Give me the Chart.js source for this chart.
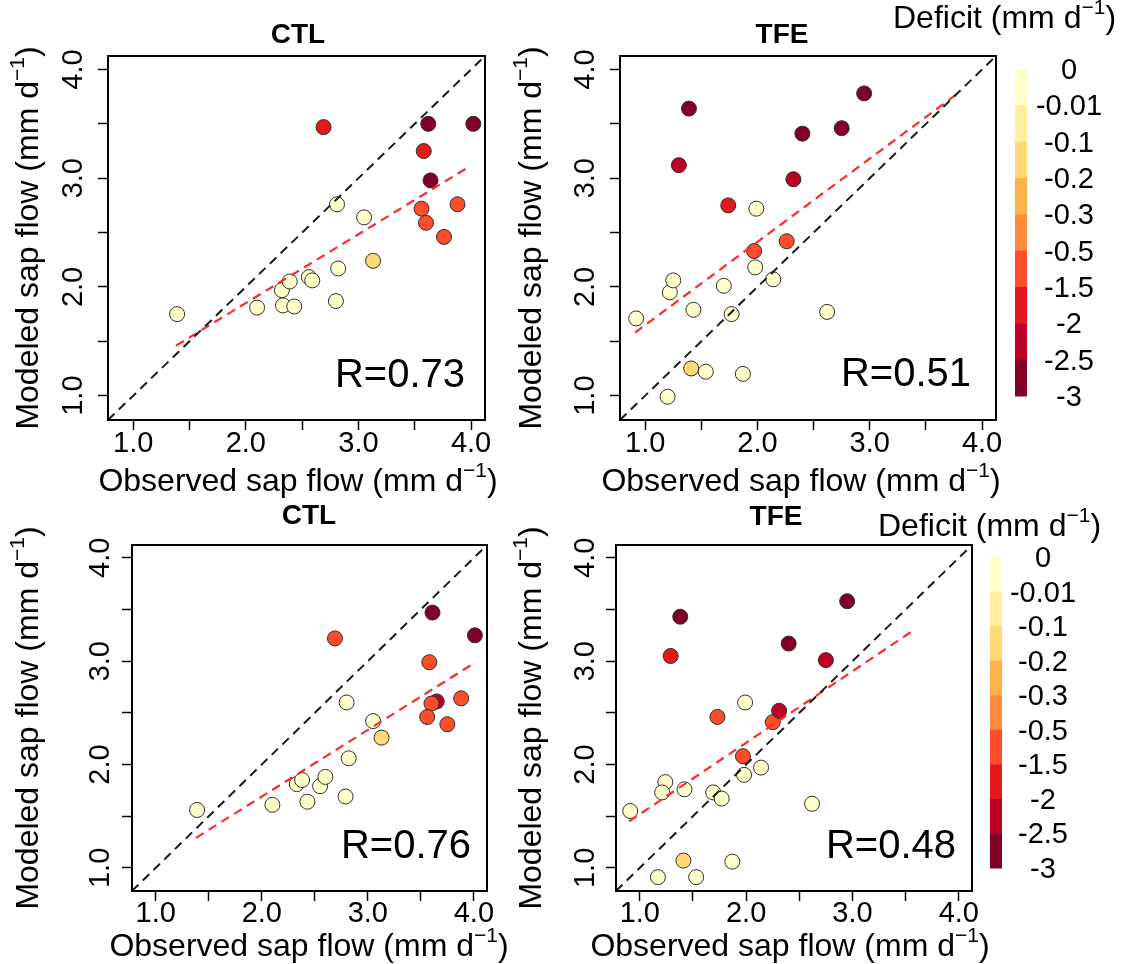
<!DOCTYPE html>
<html>
<head>
<meta charset="utf-8">
<title>Sap flow: modeled vs observed</title>
<script src="https://cdn.jsdelivr.net/npm/chart.js@4.4.1/dist/chart.umd.min.js"></script>
<style>
  body { margin: 0; background: #fff; }
  #wrap { position: relative; width: 1129px; height: 964px; }
  #wrap canvas { position: absolute; left: 0; top: 0; }
</style>
</head>
<body>
<div id="wrap">
  <canvas id="ctlTop" width="1129" height="964"></canvas>
  <canvas id="tfeTop" width="1129" height="964"></canvas>
  <canvas id="ctlBottom" width="1129" height="964"></canvas>
  <canvas id="tfeBottom" width="1129" height="964"></canvas>
</div>
<script>
const FONT = "'Liberation Sans', Arial, Helvetica, sans-serif";
const W = 1129, H = 964;
const X_AXIS_H = 50; // room kept under each box for the x tick labels

// shared axis (mm d-1), same on x and y
const axisMin = 0.776;
const axisMax = 4.124;
const tickValues = [1.0, 1.5, 2.0, 2.5, 3.0, 3.5, 4.0];
const tickLabels = ['1.0', '', '2.0', '', '3.0', '', '4.0'];

// colour bar: class edges and fills
const deficitLabels = ['0', '-0.01', '-0.1', '-0.2', '-0.3', '-0.5', '-1.5', '-2', '-2.5', '-3'];
const deficitColors = ['#ffffcc', '#ffeda0', '#fed976', '#feb24c', '#fd8d3c', '#fc4e2a', '#e31a1c', '#bd0026', '#800026'];

// top row, CTL
const ctlTopObs = [1.39, 2.10, 2.33, 2.43, 2.32, 2.39, 2.56, 2.59, 2.82, 2.80, 3.13, 2.81, 3.05, 2.69, 3.62, 4.02, 3.58, 3.64, 3.56, 3.60, 3.88, 3.76];
const ctlTopMod = [1.75, 1.81, 1.83, 1.82, 1.97, 2.05, 2.09, 2.06, 2.17, 1.87, 2.24, 2.76, 2.64, 3.47, 3.50, 3.50, 3.25, 2.98, 2.72, 2.59, 2.76, 2.46];
const ctlTopBin = [0, 0, 0, 0, 0, 0, 0, 0, 0, 0, 2, 0, 0, 6, 8, 8, 6, 8, 5, 5, 5, 5];
const ctlTopFitX = [1.38, 3.99];
const ctlTopFitY = [1.46, 3.11];

// top row, TFE
const tfeTopObs = [0.92, 1.20, 1.22, 1.25, 1.41, 1.54, 1.43, 1.70, 1.77, 1.87, 1.98, 1.99, 2.14, 2.62, 1.97, 2.26, 1.74, 1.30, 2.32, 1.39, 2.40, 2.75, 2.95];
const tfeTopMod = [1.71, 0.99, 1.95, 2.06, 1.25, 1.22, 1.79, 2.01, 1.75, 1.20, 2.18, 2.72, 2.07, 1.77, 2.33, 2.42, 2.75, 3.12, 2.99, 3.64, 3.41, 3.46, 3.78];
const tfeTopBin = [0, 0, 0, 0, 2, 0, 0, 0, 0, 0, 0, 0, 0, 0, 5, 5, 6, 7, 7, 8, 8, 8, 8];
const tfeTopFitX = [0.91, 3.77];
const tfeTopFitY = [1.58, 3.77];

// bottom row, CTL
const ctlBotObs = [1.39, 2.10, 2.33, 2.38, 2.43, 2.55, 2.60, 2.79, 2.82, 2.80, 3.05, 3.13, 2.69, 3.61, 4.01, 3.58, 3.65, 3.60, 3.56, 3.88, 3.75];
const ctlBotMod = [1.56, 1.61, 1.81, 1.85, 1.64, 1.79, 1.88, 1.69, 2.06, 2.60, 2.42, 2.26, 3.22, 3.47, 3.25, 2.99, 2.61, 2.59, 2.46, 2.64, 2.39];
const ctlBotBin = [0, 0, 0, 0, 0, 0, 0, 0, 0, 0, 0, 2, 5, 8, 8, 5, 7, 5, 5, 5, 5];
const ctlBotFitX = [1.38, 3.97];
const ctlBotFitY = [1.29, 2.96];

// bottom row, TFE
const tfeBotObs = [0.91, 1.17, 1.41, 1.53, 1.87, 1.24, 1.21, 1.42, 1.69, 1.77, 1.98, 2.14, 1.99, 2.62, 1.97, 2.25, 1.73, 2.31, 1.29, 2.75, 1.38, 2.40, 2.95];
const tfeBotMod = [1.55, 0.91, 1.07, 0.91, 1.06, 1.83, 1.73, 1.76, 1.73, 1.67, 1.90, 1.97, 2.60, 1.62, 2.08, 2.41, 2.46, 2.52, 3.05, 3.01, 3.43, 3.17, 3.58];
const tfeBotBin = [0, 0, 2, 0, 0, 0, 0, 0, 0, 0, 0, 0, 0, 0, 5, 5, 5, 7, 6, 7, 8, 8, 8];
const tfeBotFitX = [0.90, 3.59];
const tfeBotFitY = [1.45, 3.31];

const rLabels = ['R=0.73', 'R=0.51', 'R=0.76', 'R=0.48'];

function unitParts(prefix) {
  return [
    { t: prefix + ' (mm d', size: 32 },
    { t: '\u22121', size: 21, dy: -14 },
    { t: ')', size: 32 }
  ];
}

function drawRich(ctx, parts, x, y, align, angle) {
  ctx.save();
  ctx.translate(x, y);
  ctx.rotate(angle);
  let total = 0;
  parts.forEach(pt => {
    ctx.font = pt.size + 'px ' + FONT;
    pt.w = ctx.measureText(pt.t).width;
    total += pt.w;
  });
  let cx = align === 'center' ? -total / 2 : (align === 'right' ? -total : 0);
  ctx.textAlign = 'left';
  ctx.textBaseline = 'alphabetic';
  ctx.fillStyle = '#000';
  parts.forEach(pt => {
    ctx.font = pt.size + 'px ' + FONT;
    ctx.fillText(pt.t, cx, pt.dy || 0);
    cx += pt.w;
  });
  ctx.restore();
}

function drawColorBar(ctx, b) {
  const n = deficitColors.length;
  const h = (b.bottom - b.top) / n;
  deficitColors.forEach((c, i) => {
    ctx.fillStyle = c;
    ctx.fillRect(b.left, b.top + i * h, b.width, h + 0.5);
  });
  ctx.fillStyle = '#000';
  ctx.font = '29px ' + FONT;
  ctx.textAlign = 'center';
  ctx.textBaseline = 'middle';
  deficitLabels.forEach((t, i) => ctx.fillText(t, b.labelX, b.top + i * h + 2));
  drawRich(ctx, unitParts('Deficit'), b.titleX, b.titleY, 'left', 0);
}

function textPlugin(p) {
  return {
    id: 'panelText',
    afterDraw(chart) {
      const ctx = chart.ctx;
      const a = chart.chartArea;
      const ys = chart.scales.y;
      ctx.save();
      ctx.strokeStyle = '#000';
      ctx.lineWidth = 2;
      ctx.strokeRect(a.left, a.top, a.right - a.left, a.bottom - a.top);

      ctx.fillStyle = '#000';
      ctx.font = 'bold 28px ' + FONT;
      ctx.textAlign = 'center';
      ctx.textBaseline = 'alphabetic';
      ctx.fillText(p.title, p.titleX, p.titleY);

      // y tick labels, rotated like R's default las=0
      ctx.font = '29px ' + FONT;
      tickValues.forEach((v, i) => {
        if (!tickLabels[i]) return;
        ctx.save();
        ctx.translate(p.yTickX, ys.getPixelForValue(v));
        ctx.rotate(-Math.PI / 2);
        ctx.textAlign = 'center';
        ctx.fillText(tickLabels[i], 0, 0);
        ctx.restore();
      });

      drawRich(ctx, unitParts('Observed sap flow'), p.xTitleX, p.xTitleY, 'center', 0);
      drawRich(ctx, unitParts('Modeled sap flow'), p.yTitleX, (a.top + a.bottom) / 2, 'center', -Math.PI / 2);

      ctx.font = '40px ' + FONT;
      ctx.textAlign = 'right';
      ctx.fillStyle = '#000';
      ctx.fillText(p.r, p.rX, p.rY);

      if (p.bar) drawColorBar(ctx, p.bar);
      ctx.restore();
    }
  };
}

function axis(pad, isX) {
  return {
    type: 'linear',
    min: axisMin,
    max: axisMax,
    afterBuildTicks: s => { s.ticks = tickValues.map(v => ({ value: v })); },
    afterFit: s => { if (isX) s.height = X_AXIS_H; else s.width = 0; },
    border: { display: false },
    grid: { drawOnChartArea: false, drawTicks: true, tickLength: 10, tickColor: '#000', tickWidth: 1.5 },
    ticks: {
      display: isX,
      autoSkip: false,
      maxRotation: 0,
      padding: pad,
      color: '#000',
      font: { family: FONT, size: 29, lineHeight: 1 },
      callback: (v, i) => tickLabels[i]
    }
  };
}

function makePanel(id, p) {
  const pts = p.obs.map((x, i) => ({ x: x, y: p.mod[i] }));
  return new Chart(document.getElementById(id), {
    type: 'scatter',
    data: {
      datasets: [
        {
          data: pts,
          backgroundColor: p.bins.map(b => deficitColors[b]),
          borderColor: '#2e2e2e',
          borderWidth: 1,
          pointRadius: 7.5,
          order: 3
        },
        {
          data: [{ x: p.fitX[0], y: p.fitY[0] }, { x: p.fitX[1], y: p.fitY[1] }],
          showLine: true,
          borderColor: '#ff2a2a',
          borderWidth: 2.2,
          borderDash: [9, 6],
          pointRadius: 0,
          order: 2
        },
        {
          data: [{ x: axisMin, y: axisMin }, { x: axisMax, y: axisMax }],
          showLine: true,
          borderColor: '#1a1a1a',
          borderWidth: 2,
          borderDash: [9, 6],
          pointRadius: 0,
          order: 1
        }
      ]
    },
    options: {
      responsive: false,
      animation: false,
      devicePixelRatio: 1,
      events: [],
      layout: { padding: { left: p.box[0], right: W - p.box[1], top: p.box[2], bottom: H - p.box[3] - X_AXIS_H } },
      plugins: { legend: { display: false }, tooltip: { enabled: false } },
      scales: { x: axis(p.xPad, true), y: axis(0, false) }
    },
    plugins: [textPlugin(p)]
  });
}

makePanel('ctlTop', {
  obs: ctlTopObs, mod: ctlTopMod, bins: ctlTopBin, fitX: ctlTopFitX, fitY: ctlTopFitY,
  box: [108, 485, 56, 420], xPad: -1,
  title: 'CTL', titleX: 298, titleY: 43,
  yTickX: 82, yTitleX: 38, xTitleX: 298, xTitleY: 491,
  r: rLabels[0], rX: 465, rY: 387
});

makePanel('tfeTop', {
  obs: tfeTopObs, mod: tfeTopMod, bins: tfeTopBin, fitX: tfeTopFitX, fitY: tfeTopFitY,
  box: [620, 996, 56, 420], xPad: -1,
  title: 'TFE', titleX: 782, titleY: 43,
  yTickX: 594, yTitleX: 541, xTitleX: 801, xTitleY: 491,
  r: rLabels[1], rX: 971, rY: 386,
  bar: { left: 1015, width: 12, top: 69, bottom: 396, labelX: 1069, titleX: 893, titleY: 28 }
});

makePanel('ctlBottom', {
  obs: ctlBotObs, mod: ctlBotMod, bins: ctlBotBin, fitX: ctlBotFitX, fitY: ctlBotFitY,
  box: [132, 487, 545, 891], xPad: -2,
  title: 'CTL', titleX: 309, titleY: 524,
  yTickX: 109, yTitleX: 38, xTitleX: 309, xTitleY: 956,
  r: rLabels[2], rX: 471, rY: 858
});

makePanel('tfeBottom', {
  obs: tfeBotObs, mod: tfeBotMod, bins: tfeBotBin, fitX: tfeBotFitX, fitY: tfeBotFitY,
  box: [616, 972, 545, 891], xPad: -2,
  title: 'TFE', titleX: 776, titleY: 525,
  yTickX: 594, yTitleX: 541, xTitleX: 790, xTitleY: 956,
  r: rLabels[3], rX: 956, rY: 858,
  bar: { left: 990, width: 12, top: 557, bottom: 868, labelX: 1043, titleX: 878, titleY: 536 }
});
</script>
</body>
</html>
